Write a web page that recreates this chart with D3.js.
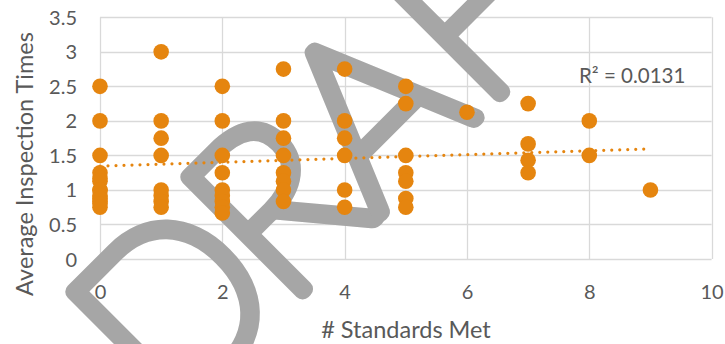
<!DOCTYPE html>
<html>
<head>
<meta charset="utf-8">
<script src="https://cdn.jsdelivr.net/npm/d3@7"></script>
<style>
  html, body { margin: 0; padding: 0; background: #ffffff; }
  svg { display: block; }
  text { font-family: Lato, "Open Sans", sans-serif; fill: #595959; }
</style>
</head>
<body>
<svg id="chart" width="725" height="344"></svg>
<script>
// Number of standards met by each site
const standardsMet = [
  0,0,0,0,0,0,0,0,0,0,0,0,0,
  1,1,1,1,1,1,1,1,
  2,2,2,2,2,2,2,2,2,
  3,3,3,3,3,3,3,3,
  4,4,4,4,4,4,
  5,5,5,5,5,5,5,
  6,
  7,7,7,7,
  8,8,
  9
];
// Average inspection times for the same sites
const avgInspectionTimes = [
  2.5,2,1.5,1.25,1.167,1.125,1,1,0.917,0.875,0.833,0.8,0.75,
  3,2,1.75,1.5,1,0.917,0.833,0.75,
  2.5,2,1.5,1.25,1,0.917,0.833,0.75,0.667,
  2.75,2,1.75,1.5,1.25,1.125,1,0.833,
  2.75,2,1.75,1.5,1,0.75,
  2.5,2.25,1.5,1.25,1.125,0.875,0.75,
  2.125,
  2.25,1.667,1.43,1.25,
  2,1.5,
  1
];
const xTicks = [0, 2, 4, 6, 8, 10];
const yTicks = [0, 0.5, 1, 1.5, 2, 2.5, 3, 3.5];
// Linear trendline
const trendIntercept = 1.345;
const trendSlope = 0.0277;
const trendRange = [0, 9];
const rSquaredLabel = "R\u00b2 = 0.0131";
const watermarkLetters = ["D", "R", "A", "F", "T"];
const watermarkOffsets = [62, 205, 341, 481, 605];

const orange = "#e5850f";
const gridColor = "#d9d9d9";

const svg = d3.select("#chart");
const x = d3.scaleLinear().domain([0, 10]).range([100, 711.6]);
const y = d3.scaleLinear().domain([0, 3.5]).range([259, 17.3]);

// Gridlines (horizontal and vertical) forming the plot frame
const grid = svg.append("g");
grid.selectAll("line.h").data(yTicks).join("line")
  .attr("x1", x(0)).attr("x2", x(10))
  .attr("y1", d => Math.round(y(d)) + 0.5).attr("y2", d => Math.round(y(d)) + 0.5)
  .attr("stroke", gridColor).attr("stroke-width", 1.3);
grid.selectAll("line.v").data(xTicks).join("line")
  .attr("y1", y(0)).attr("y2", y(3.5))
  .attr("x1", d => Math.round(x(d)) + 0.5).attr("x2", d => Math.round(x(d)) + 0.5)
  .attr("stroke", gridColor).attr("stroke-width", 1.3);

// DRAFT watermark
const wm = svg.append("g")
  .attr("transform", "translate(186.7,406.7) rotate(-45)");
wm.selectAll("text").data(watermarkLetters).join("text")
  .attr("x", (d, i) => watermarkOffsets[i])
  .attr("y", 0)
  .attr("text-anchor", "middle")
  .style("font-family", "Lato")
  .style("font-weight", 100)
  .style("font-size", "230px")
  .style("fill", "#a6a6a6")
  .style("stroke", "#a6a6a6")
  .style("stroke-width", 17)
  .style("stroke-linejoin", "round")
  .style("stroke-linecap", "round")
  .text(d => d);

// Trendline
svg.append("line")
  .attr("x1", x(trendRange[0])).attr("y1", y(trendIntercept + trendSlope * trendRange[0]))
  .attr("x2", x(trendRange[1])).attr("y2", y(trendIntercept + trendSlope * trendRange[1]))
  .attr("stroke", orange).attr("stroke-width", 3.2)
  .attr("stroke-linecap", "round").attr("stroke-dasharray", "0 8");

// Points
svg.append("g").selectAll("circle").data(standardsMet).join("circle")
  .attr("cx", d => x(d))
  .attr("cy", (d, i) => y(avgInspectionTimes[i]))
  .attr("r", 7.8)
  .attr("fill", orange);

// Axes labels
const xAxis = d3.axisBottom(x).tickValues(xTicks).tickSize(0).tickPadding(0).tickFormat(d3.format("d"));
const gx = svg.append("g").attr("transform", "translate(0,285)").call(xAxis);
gx.select(".domain").remove();
gx.selectAll("text").attr("dy", null).attr("y", 14).style("font-size", "20px").style("fill", "#595959").style("font-family", "Lato");

const yAxis = d3.axisLeft(y).tickValues(yTicks).tickSize(0).tickPadding(0).tickFormat(d => String(d));
const gy = svg.append("g").attr("transform", "translate(77,0)").call(yAxis);
gy.select(".domain").remove();
gy.selectAll("text").attr("dy", null).attr("y", 7).attr("x", 0).style("font-size", "20px").style("fill", "#595959").style("font-family", "Lato");

// Axis titles
svg.append("text")
  .attr("x", 406).attr("y", 338)
  .attr("text-anchor", "middle")
  .style("font-size", "23.5px")
  .text("# Standards Met");
svg.append("text")
  .attr("transform", "translate(33,164) rotate(-90)")
  .attr("text-anchor", "middle")
  .style("font-size", "23.5px")
  .text("Average Inspection Times");

// Trendline R² label
svg.append("text")
  .attr("x", 579).attr("y", 83)
  .style("font-size", "20.5px")
  .text(rSquaredLabel);
</script>
</body>
</html>
